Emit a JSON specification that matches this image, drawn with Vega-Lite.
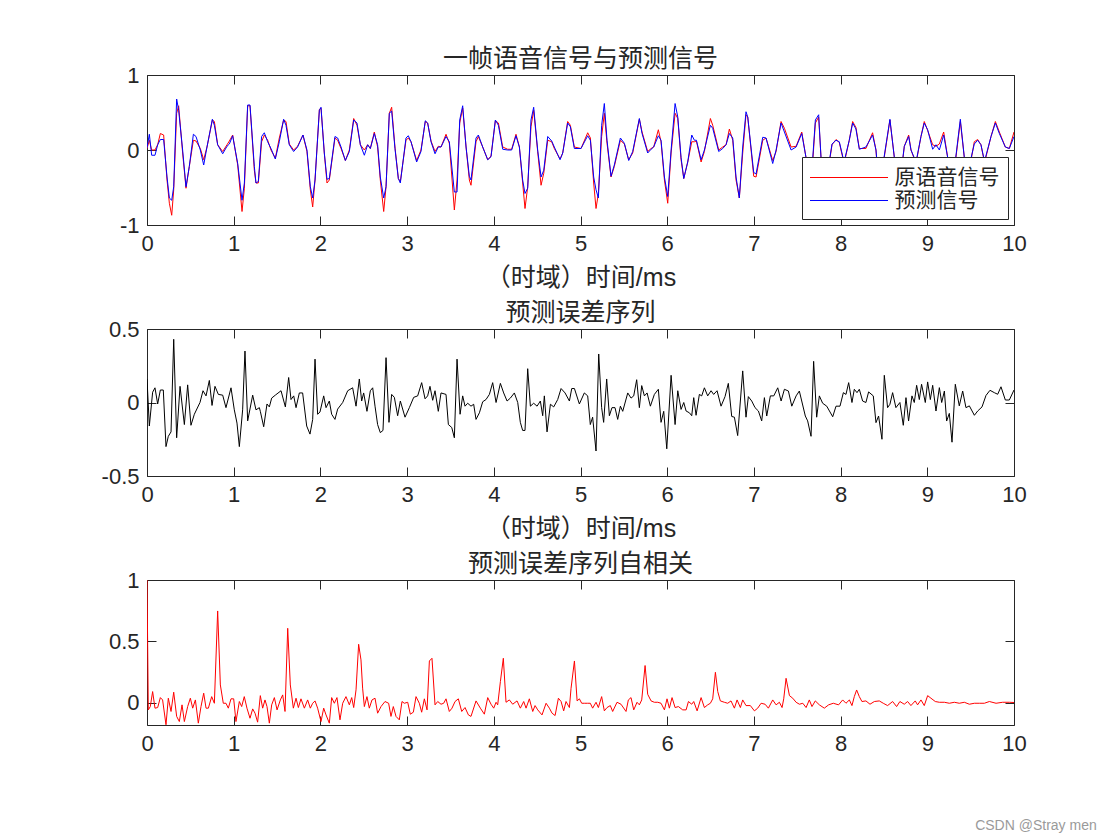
{
  "$schema": "https://vega.github.io/schema/vega-lite/v6.json",
  "background": "white",
  "padding": {"left": 100, "top": 46, "right": 10, "bottom": 8},
  "bounds": "flush",
  "spacing": 104,
  "config": {
    "view": {"stroke": "#262626", "strokeWidth": 1},
    "font": "Liberation Sans, Noto Sans CJK SC",
    "axis": {"domain": false, "grid": false, "ticks": true, "tickSize": -9, "tickColor": "#262626", "tickWidth": 1, "labelFont": "Liberation Sans", "labelFontSize": 22, "labelColor": "#262626", "labelPadding": 17, "titleFont": "Liberation Sans, Noto Sans CJK SC", "titleFontSize": 25, "titleFontWeight": "normal", "titleColor": "#262626", "labelFlush": false, "labelOverlap": false},
    "title": {"font": "Liberation Sans, Noto Sans CJK SC", "fontSize": 25, "fontWeight": "normal", "color": "#262626", "offset": -8, "anchor": "middle"}
  },
  "title": {"text": "CSDN @Stray men", "orient": "bottom", "anchor": "end", "font": "Liberation Sans", "fontSize": 14, "color": "#9a9a9a", "offset": 64, "dx": 70},
  "datasets": {
    "sig": [
      {"t":0,"o":0.02,"p":0.03},{"t":0.027,"o":0.13,"p":0.21},{"t":0.054,"o":0,"p":-0.07},{"t":0.092,"o":0,"p":-0.07},{"t":0.123,"o":0.07,"p":0.07},{"t":0.154,"o":0.22,"p":0.14},{"t":0.192,"o":0.2,"p":0.14},{"t":0.231,"o":-0.4,"p":-0.36},{"t":0.258,"o":-0.71,"p":-0.64},{"t":0.285,"o":-0.87,"p":-0.67},{"t":0.308,"o":-0.53,"p":-0.49},{"t":0.342,"o":0.49,"p":0.68},{"t":0.365,"o":0.59,"p":0.53},{"t":0.411,"o":-0.04,"p":0},{"t":0.45,"o":-0.51,"p":-0.49},{"t":0.488,"o":-0.22,"p":-0.22},{"t":0.535,"o":0.13,"p":0.21},{"t":0.565,"o":0.12,"p":0.18},{"t":0.615,"o":0.02,"p":0},{"t":0.654,"o":-0.13,"p":-0.2},{"t":0.692,"o":0.04,"p":0.04},{"t":0.754,"o":0.4,"p":0.41},{"t":0.777,"o":0.38,"p":0.33},{"t":0.815,"o":0.07,"p":0.07},{"t":0.873,"o":-0.02,"p":-0.05},{"t":0.923,"o":0.07,"p":0.05},{"t":0.95,"o":0.12,"p":0.08},{"t":0.988,"o":0.2,"p":0.19},{"t":1.046,"o":-0.2,"p":-0.18},{"t":1.096,"o":-0.82,"p":-0.67},{"t":1.123,"o":-0.51,"p":-0.44},{"t":1.161,"o":0.59,"p":0.6},{"t":1.188,"o":0.59,"p":0.6},{"t":1.238,"o":-0.27,"p":-0.22},{"t":1.257,"o":-0.44,"p":-0.44},{"t":1.284,"o":-0.44,"p":-0.42},{"t":1.322,"o":0.11,"p":0.18},{"t":1.353,"o":0.2,"p":0.23},{"t":1.392,"o":0.13,"p":0.11},{"t":1.43,"o":0,"p":0.02},{"t":1.48,"o":-0.11,"p":-0.12},{"t":1.526,"o":0.16,"p":0.11},{"t":1.576,"o":0.4,"p":0.41},{"t":1.603,"o":0.38,"p":0.33},{"t":1.641,"o":0.08,"p":0.07},{"t":1.691,"o":0,"p":-0.02},{"t":1.737,"o":0.05,"p":0.04},{"t":1.799,"o":0.2,"p":0.2},{"t":1.845,"o":-0.02,"p":0},{"t":1.884,"o":-0.53,"p":-0.49},{"t":1.911,"o":-0.76,"p":-0.64},{"t":1.938,"o":-0.4,"p":-0.4},{"t":1.988,"o":0.54,"p":0.53},{"t":2.007,"o":0.56,"p":0.57},{"t":2.045,"o":-0.04,"p":-0.04},{"t":2.076,"o":-0.44,"p":-0.39},{"t":2.103,"o":-0.4,"p":-0.38},{"t":2.168,"o":0.16,"p":0.18},{"t":2.199,"o":0.13,"p":0.16},{"t":2.238,"o":0.02,"p":0.04},{"t":2.288,"o":-0.14,"p":-0.14},{"t":2.334,"o":0,"p":-0.02},{"t":2.384,"o":0.42,"p":0.4},{"t":2.422,"o":0.33,"p":0.36},{"t":2.461,"o":0.07,"p":0.07},{"t":2.507,"o":0,"p":-0.07},{"t":2.545,"o":0.07,"p":0.07},{"t":2.576,"o":0.02,"p":0.02},{"t":2.622,"o":0.24,"p":0.22},{"t":2.66,"o":0.04,"p":0.07},{"t":2.691,"o":-0.4,"p":-0.36},{"t":2.73,"o":-0.82,"p":-0.64},{"t":2.757,"o":-0.49,"p":-0.49},{"t":2.795,"o":0.49,"p":0.49},{"t":2.822,"o":0.57,"p":0.52},{"t":2.86,"o":0.04,"p":0.02},{"t":2.899,"o":-0.38,"p":-0.38},{"t":2.922,"o":-0.42,"p":-0.44},{"t":2.987,"o":0.13,"p":0.16},{"t":3.014,"o":0.16,"p":0.19},{"t":3.045,"o":0.11,"p":0.11},{"t":3.11,"o":-0.14,"p":-0.16},{"t":3.16,"o":0,"p":-0.02},{"t":3.21,"o":0.38,"p":0.39},{"t":3.237,"o":0.36,"p":0.36},{"t":3.276,"o":0.12,"p":0.11},{"t":3.322,"o":-0.02,"p":-0.05},{"t":3.36,"o":0.05,"p":0.04},{"t":3.391,"o":0.04,"p":0.04},{"t":3.449,"o":0.21,"p":0.18},{"t":3.487,"o":0.09,"p":0.11},{"t":3.545,"o":-0.8,"p":-0.56},{"t":3.576,"o":-0.4,"p":-0.56},{"t":3.607,"o":0.36,"p":0.4},{"t":3.641,"o":0.56,"p":0.59},{"t":3.68,"o":0.04,"p":0.04},{"t":3.718,"o":-0.4,"p":-0.35},{"t":3.737,"o":-0.47,"p":-0.4},{"t":3.795,"o":0.11,"p":0.16},{"t":3.822,"o":0.18,"p":0.2},{"t":3.872,"o":0.04,"p":0.04},{"t":3.93,"o":-0.13,"p":-0.13},{"t":3.968,"o":-0.08,"p":-0.09},{"t":4.018,"o":0.39,"p":0.4},{"t":4.053,"o":0.36,"p":0.33},{"t":4.103,"o":0.04,"p":0.01},{"t":4.16,"o":0.01,"p":0},{"t":4.206,"o":0.01,"p":0},{"t":4.256,"o":0.21,"p":0.19},{"t":4.295,"o":0.04,"p":0.04},{"t":4.333,"o":-0.44,"p":-0.4},{"t":4.36,"o":-0.78,"p":-0.58},{"t":4.391,"o":-0.49,"p":-0.51},{"t":4.429,"o":0.31,"p":0.4},{"t":4.46,"o":0.53,"p":0.57},{"t":4.506,"o":-0.02,"p":0},{"t":4.545,"o":-0.47,"p":-0.36},{"t":4.576,"o":-0.31,"p":-0.27},{"t":4.622,"o":0.13,"p":0.18},{"t":4.668,"o":0.11,"p":0.12},{"t":4.698,"o":0.02,"p":0.04},{"t":4.764,"o":-0.12,"p":-0.13},{"t":4.795,"o":-0.04,"p":-0.04},{"t":4.852,"o":0.38,"p":0.36},{"t":4.883,"o":0.33,"p":0.31},{"t":4.929,"o":0.04,"p":0.02},{"t":5.006,"o":0.02,"p":0.02},{"t":5.083,"o":0.23,"p":0.19},{"t":5.114,"o":0.16,"p":0.13},{"t":5.152,"o":-0.44,"p":-0.36},{"t":5.179,"o":-0.78,"p":-0.53},{"t":5.206,"o":-0.58,"p":-0.64},{"t":5.244,"o":0.18,"p":0.33},{"t":5.275,"o":0.49,"p":0.62},{"t":5.306,"o":0.09,"p":0.13},{"t":5.352,"o":-0.36,"p":-0.35},{"t":5.39,"o":-0.22,"p":-0.2},{"t":5.46,"o":0.13,"p":0.16},{"t":5.506,"o":0.08,"p":0.09},{"t":5.556,"o":-0.13,"p":-0.14},{"t":5.602,"o":-0.04,"p":-0.02},{"t":5.679,"o":0.41,"p":0.42},{"t":5.71,"o":0.24,"p":0.22},{"t":5.775,"o":-0.02,"p":-0.04},{"t":5.814,"o":0.02,"p":0.01},{"t":5.844,"o":0.04,"p":0.04},{"t":5.898,"o":0.27,"p":0.19},{"t":5.929,"o":0.11,"p":0.13},{"t":5.968,"o":-0.4,"p":-0.36},{"t":6.006,"o":-0.71,"p":-0.62},{"t":6.045,"o":-0.04,"p":0},{"t":6.091,"o":0.49,"p":0.62},{"t":6.122,"o":0.42,"p":0.44},{"t":6.16,"o":-0.13,"p":-0.1},{"t":6.191,"o":-0.38,"p":-0.38},{"t":6.237,"o":-0.16,"p":-0.16},{"t":6.283,"o":0.11,"p":0.2},{"t":6.314,"o":0.11,"p":0.13},{"t":6.337,"o":0.12,"p":0.13},{"t":6.391,"o":-0.16,"p":-0.13},{"t":6.429,"o":-0.02,"p":0},{"t":6.498,"o":0.42,"p":0.33},{"t":6.525,"o":0.33,"p":0.29},{"t":6.594,"o":0,"p":-0.02},{"t":6.64,"o":0.04,"p":0.02},{"t":6.679,"o":0.07,"p":0.07},{"t":6.717,"o":0.28,"p":0.22},{"t":6.756,"o":0.13,"p":0.16},{"t":6.794,"o":-0.4,"p":-0.36},{"t":6.832,"o":-0.64,"p":-0.64},{"t":6.871,"o":-0.04,"p":0.04},{"t":6.909,"o":0.47,"p":0.51},{"t":6.929,"o":0.44,"p":0.44},{"t":6.998,"o":-0.35,"p":-0.3},{"t":7.025,"o":-0.36,"p":-0.32},{"t":7.102,"o":0.13,"p":0.17},{"t":7.14,"o":0.16,"p":0.16},{"t":7.217,"o":-0.14,"p":-0.18},{"t":7.256,"o":-0.02,"p":0},{"t":7.313,"o":0.38,"p":0.36},{"t":7.352,"o":0.29,"p":0.24},{"t":7.429,"o":0.04,"p":0},{"t":7.487,"o":0.05,"p":0.04},{"t":7.552,"o":0.24,"p":0.22},{"t":7.601,"o":-0.1,"p":-0.1},{"t":7.64,"o":-0.7,"p":-0.55},{"t":7.67,"o":-0.3,"p":-0.25},{"t":7.709,"o":0.36,"p":0.4},{"t":7.747,"o":0.44,"p":0.47},{"t":7.774,"o":-0.1,"p":-0.1},{"t":7.82,"o":-0.4,"p":-0.36},{"t":7.86,"o":-0.25,"p":-0.22},{"t":7.901,"o":0.07,"p":0.08},{"t":7.947,"o":0.14,"p":0.13},{"t":7.985,"o":0.1,"p":0.11},{"t":8.04,"o":-0.18,"p":-0.16},{"t":8.1,"o":0.13,"p":0.13},{"t":8.139,"o":0.38,"p":0.36},{"t":8.177,"o":0.3,"p":0.28},{"t":8.216,"o":0.02,"p":0.01},{"t":8.292,"o":0.02,"p":0.04},{"t":8.369,"o":0.23,"p":0.2},{"t":8.408,"o":0,"p":0},{"t":8.45,"o":-0.7,"p":-0.55},{"t":8.49,"o":-0.2,"p":-0.18},{"t":8.569,"o":0.4,"p":0.41},{"t":8.62,"o":-0.1,"p":-0.1},{"t":8.66,"o":-0.4,"p":-0.36},{"t":8.71,"o":-0.2,"p":-0.18},{"t":8.735,"o":0.05,"p":0.05},{"t":8.785,"o":0.2,"p":0.18},{"t":8.812,"o":0,"p":0},{"t":8.87,"o":-0.18,"p":-0.16},{"t":8.927,"o":0.18,"p":0.18},{"t":8.965,"o":0.38,"p":0.36},{"t":9.004,"o":0.26,"p":0.27},{"t":9.062,"o":0.07,"p":0.01},{"t":9.1,"o":0.05,"p":0.07},{"t":9.139,"o":0.08,"p":0},{"t":9.189,"o":0.24,"p":0.2},{"t":9.235,"o":-0.1,"p":-0.1},{"t":9.28,"o":-0.65,"p":-0.5},{"t":9.33,"o":-0.1,"p":-0.08},{"t":9.381,"o":0.38,"p":0.41},{"t":9.427,"o":-0.1,"p":-0.1},{"t":9.47,"o":-0.38,"p":-0.34},{"t":9.51,"o":-0.1,"p":-0.08},{"t":9.542,"o":0.11,"p":0.08},{"t":9.581,"o":0.14,"p":0.13},{"t":9.619,"o":0.07,"p":0.07},{"t":9.66,"o":-0.17,"p":-0.15},{"t":9.735,"o":0.18,"p":0.18},{"t":9.785,"o":0.38,"p":0.36},{"t":9.831,"o":0.24,"p":0.22},{"t":9.9,"o":0.04,"p":0.04},{"t":9.946,"o":0.02,"p":0.02},{"t":10,"o":0.24,"p":0.18}
    ],
    "err": [
      {"t":0,"e":0.16},{"t":0.027,"e":-0.16},{"t":0.065,"e":0.07},{"t":0.092,"e":0.1},{"t":0.123,"e":-0.01},{"t":0.154,"e":0.085},{"t":0.188,"e":0.085},{"t":0.219,"e":-0.3},{"t":0.246,"e":-0.23},{"t":0.277,"e":-0.2},{"t":0.308,"e":0.43},{"t":0.342,"e":-0.24},{"t":0.381,"e":0.11},{"t":0.431,"e":-0.15},{"t":0.469,"e":0.12},{"t":0.507,"e":-0.155},{"t":0.546,"e":-0.08},{"t":0.611,"e":0},{"t":0.646,"e":0.08},{"t":0.681,"e":0.045},{"t":0.719,"e":0.15},{"t":0.75,"e":-0.02},{"t":0.784,"e":0.11},{"t":0.823,"e":0.055},{"t":0.873,"e":0.05},{"t":0.911,"e":-0.035},{"t":0.969,"e":0.1},{"t":1.007,"e":-0.05},{"t":1.038,"e":-0.14},{"t":1.065,"e":-0.3},{"t":1.103,"e":-0.05},{"t":1.13,"e":0.35},{"t":1.161,"e":-0.125},{"t":1.219,"e":0.05},{"t":1.257,"e":-0.05},{"t":1.296,"e":-0.035},{"t":1.307,"e":-0.06},{"t":1.346,"e":-0.165},{"t":1.384,"e":-0.01},{"t":1.411,"e":-0.03},{"t":1.438,"e":0.03},{"t":1.48,"e":0.05},{"t":1.546,"e":0.08},{"t":1.596,"e":-0.03},{"t":1.634,"e":0.17},{"t":1.661,"e":0.02},{"t":1.692,"e":0.045},{"t":1.719,"e":-0.035},{"t":1.757,"e":0.065},{"t":1.795,"e":0.065},{"t":1.842,"e":-0.16},{"t":1.88,"e":-0.215},{"t":1.911,"e":-0.115},{"t":1.938,"e":0.295},{"t":1.968,"e":-0.08},{"t":1.995,"e":-0.065},{"t":2.038,"e":0.045},{"t":2.065,"e":-0.035},{"t":2.103,"e":0.01},{"t":2.13,"e":-0.08},{"t":2.168,"e":-0.115},{"t":2.199,"e":-0.045},{"t":2.257,"e":0},{"t":2.315,"e":0.08},{"t":2.372,"e":0.1},{"t":2.411,"e":-0.025},{"t":2.449,"e":0.16},{"t":2.476,"e":0.01},{"t":2.499,"e":0.065},{"t":2.537,"e":-0.06},{"t":2.576,"e":0.08},{"t":2.603,"e":0.1},{"t":2.63,"e":-0.025},{"t":2.66,"e":-0.15},{"t":2.691,"e":-0.205},{"t":2.722,"e":-0.19},{"t":2.757,"e":0.305},{"t":2.791,"e":-0.135},{"t":2.822,"e":0.055},{"t":2.853,"e":0.035},{"t":2.891,"e":-0.09},{"t":2.922,"e":0.01},{"t":2.976,"e":-0.1},{"t":3.026,"e":-0.035},{"t":3.076,"e":0.035},{"t":3.122,"e":0.045},{"t":3.168,"e":0.135},{"t":3.207,"e":0.025},{"t":3.237,"e":0.045},{"t":3.264,"e":0.11},{"t":3.295,"e":0.015},{"t":3.322,"e":0.08},{"t":3.36,"e":-0.06},{"t":3.391,"e":0.065},{"t":3.449,"e":0.055},{"t":3.476,"e":-0.15},{"t":3.515,"e":-0.17},{"t":3.545,"e":-0.24},{"t":3.576,"e":0.295},{"t":3.611,"e":-0.08},{"t":3.641,"e":0.045},{"t":3.668,"e":-0.025},{"t":3.699,"e":-0.005},{"t":3.737,"e":-0.025},{"t":3.768,"e":-0.012},{"t":3.795,"e":-0.115},{"t":3.834,"e":-0.07},{"t":3.872,"e":0.005},{"t":3.91,"e":0.02},{"t":3.949,"e":0.055},{"t":3.987,"e":0.135},{"t":4.026,"e":0},{"t":4.076,"e":0.13},{"t":4.114,"e":0.065},{"t":4.153,"e":0.01},{"t":4.191,"e":0.03},{"t":4.237,"e":0.065},{"t":4.276,"e":0},{"t":4.306,"e":-0.135},{"t":4.333,"e":-0.19},{"t":4.36,"e":-0.19},{"t":4.391,"e":0.23},{"t":4.422,"e":-0.025},{"t":4.46,"e":-0.005},{"t":4.499,"e":-0.025},{"t":4.537,"e":0.01},{"t":4.564,"e":-0.09},{"t":4.583,"e":0.045},{"t":4.614,"e":-0.2},{"t":4.653,"e":-0.012},{"t":4.691,"e":-0.03},{"t":4.737,"e":0.02},{"t":4.776,"e":0.095},{"t":4.822,"e":0.065},{"t":4.872,"e":0.01},{"t":4.899,"e":0.095},{"t":4.93,"e":0.095},{"t":4.987,"e":-0.01},{"t":5.044,"e":0.065},{"t":5.083,"e":0.045},{"t":5.113,"e":-0.15},{"t":5.14,"e":-0.1},{"t":5.179,"e":-0.33},{"t":5.21,"e":0.33},{"t":5.244,"e":-0.035},{"t":5.267,"e":-0.135},{"t":5.302,"e":0.16},{"t":5.333,"e":-0.09},{"t":5.363,"e":-0.035},{"t":5.398,"e":-0.035},{"t":5.429,"e":-0.115},{"t":5.46,"e":-0.025},{"t":5.487,"e":-0.06},{"t":5.545,"e":0.065},{"t":5.583,"e":0.03},{"t":5.614,"e":0.045},{"t":5.648,"e":0.155},{"t":5.679,"e":-0.035},{"t":5.706,"e":0.115},{"t":5.737,"e":0.045},{"t":5.768,"e":0.065},{"t":5.806,"e":-0.025},{"t":5.852,"e":0.055},{"t":5.898,"e":0.09},{"t":5.929,"e":-0.135},{"t":5.96,"e":-0.06},{"t":5.995,"e":-0.315},{"t":6.045,"e":0.185},{"t":6.091,"e":-0.15},{"t":6.122,"e":0.08},{"t":6.16,"e":-0.047},{"t":6.191,"e":0},{"t":6.218,"e":-0.058},{"t":6.256,"e":-0.07},{"t":6.283,"e":-0.09},{"t":6.306,"e":0.033},{"t":6.333,"e":-0.087},{"t":6.371,"e":0.055},{"t":6.398,"e":0.045},{"t":6.429,"e":0.1},{"t":6.467,"e":0.045},{"t":6.506,"e":0.08},{"t":6.536,"e":0.055},{"t":6.575,"e":0.08},{"t":6.621,"e":-0.025},{"t":6.667,"e":0.04},{"t":6.705,"e":0.13},{"t":6.744,"e":-0.095},{"t":6.775,"e":-0.1},{"t":6.813,"e":-0.225},{"t":6.871,"e":0.215},{"t":6.909,"e":-0.1},{"t":6.936,"e":0.04},{"t":6.975,"e":0.01},{"t":7.013,"e":-0.035},{"t":7.052,"e":-0.058},{"t":7.09,"e":-0.125},{"t":7.121,"e":0.033},{"t":7.148,"e":-0.092},{"t":7.19,"e":0.045},{"t":7.229,"e":0.045},{"t":7.275,"e":0.1},{"t":7.314,"e":0.01},{"t":7.352,"e":0.09},{"t":7.398,"e":0.078},{"t":7.437,"e":-0.025},{"t":7.487,"e":0.045},{"t":7.524,"e":0.078},{"t":7.593,"e":-0.092},{"t":7.62,"e":-0.125},{"t":7.659,"e":-0.23},{"t":7.689,"e":0.28},{"t":7.724,"e":-0.1},{"t":7.755,"e":0.045},{"t":7.793,"e":-0.005},{"t":7.84,"e":-0.025},{"t":7.909,"e":-0.097},{"t":7.947,"e":-0.025},{"t":7.993,"e":-0.025},{"t":8.032,"e":0.067},{"t":8.062,"e":0.055},{"t":8.093,"e":0.135},{"t":8.131,"e":0},{"t":8.158,"e":0.09},{"t":8.189,"e":0.067},{"t":8.216,"e":0.09},{"t":8.254,"e":0.01},{"t":8.292,"e":0},{"t":8.323,"e":0.072},{"t":8.377,"e":0.045},{"t":8.408,"e":-0.137},{"t":8.438,"e":-0.092},{"t":8.477,"e":-0.25},{"t":8.504,"e":0.185},{"t":8.542,"e":-0.035},{"t":8.569,"e":-0.012},{"t":8.6,"e":0.067},{"t":8.638,"e":-0.035},{"t":8.684,"e":0},{"t":8.723,"e":-0.155},{"t":8.754,"e":0.033},{"t":8.784,"e":-0.126},{"t":8.823,"e":0.045},{"t":8.85,"e":0},{"t":8.877,"e":0.117},{"t":8.908,"e":0.02},{"t":8.934,"e":0.124},{"t":8.977,"e":0},{"t":9.004,"e":0.14},{"t":9.035,"e":0.02},{"t":9.062,"e":0.117},{"t":9.1,"e":-0.058},{"t":9.139,"e":0.101},{"t":9.166,"e":0},{"t":9.197,"e":0.078},{"t":9.223,"e":-0.126},{"t":9.254,"e":-0.074},{"t":9.285,"e":-0.27},{"t":9.323,"e":0.124},{"t":9.369,"e":-0.023},{"t":9.408,"e":0.078},{"t":9.446,"e":-0.035},{"t":9.485,"e":-0.023},{"t":9.543,"e":-0.087},{"t":9.581,"e":-0.058},{"t":9.631,"e":-0.03},{"t":9.677,"e":0.048},{"t":9.723,"e":0.083},{"t":9.773,"e":0.067},{"t":9.812,"e":0.056},{"t":9.85,"e":0.107},{"t":9.9,"e":0.017},{"t":9.946,"e":0.017},{"t":10,"e":0.085}
    ],
    "ac": [
      {"t":0,"r":1},{"t":0.015,"r":-0.057},{"t":0.038,"r":-0.03},{"t":0.065,"r":0.092},{"t":0.092,"r":-0.043},{"t":0.123,"r":-0.038},{"t":0.154,"r":0.043},{"t":0.18,"r":0.024},{"t":0.219,"r":-0.178},{"t":0.246,"r":0.038},{"t":0.277,"r":-0.07},{"t":0.308,"r":0.087},{"t":0.342,"r":-0.11},{"t":0.373,"r":-0.152},{"t":0.404,"r":-0.016},{"t":0.431,"r":-0.152},{"t":0.469,"r":-0.03},{"t":0.5,"r":0.038},{"t":0.527,"r":-0.043},{"t":0.558,"r":0.024},{"t":0.592,"r":-0.165},{"t":0.623,"r":-0.03},{"t":0.654,"r":0.079},{"t":0.681,"r":-0.043},{"t":0.708,"r":-0.043},{"t":0.746,"r":0.051},{"t":0.777,"r":-0.003},{"t":0.815,"r":0.748},{"t":0.846,"r":0.146},{"t":0.88,"r":-0.003},{"t":0.911,"r":-0.003},{"t":0.938,"r":-0.043},{"t":0.969,"r":0.033},{"t":1,"r":0.033},{"t":1.026,"r":-0.152},{"t":1.065,"r":0.011},{"t":1.092,"r":-0.03},{"t":1.122,"r":0.051},{"t":1.153,"r":-0.043},{"t":1.188,"r":-0.125},{"t":1.219,"r":-0.049},{"t":1.246,"r":-0.084},{"t":1.276,"r":-0.157},{"t":1.307,"r":0.059},{"t":1.334,"r":-0.043},{"t":1.361,"r":0.024},{"t":1.384,"r":-0.03},{"t":1.411,"r":-0.165},{"t":1.438,"r":-0.016},{"t":1.469,"r":0.043},{"t":1.5,"r":-0.057},{"t":1.538,"r":0.024},{"t":1.565,"r":0.065},{"t":1.592,"r":-0.07},{"t":1.623,"r":0.607},{"t":1.653,"r":0.146},{"t":1.688,"r":-0.043},{"t":1.719,"r":0.038},{"t":1.746,"r":-0.038},{"t":1.776,"r":0.033},{"t":1.815,"r":-0.043},{"t":1.853,"r":0.024},{"t":1.884,"r":-0.043},{"t":1.911,"r":-0.003},{"t":1.938,"r":0.016},{"t":1.968,"r":-0.043},{"t":2.007,"r":-0.152},{"t":2.038,"r":-0.043},{"t":2.065,"r":-0.098},{"t":2.103,"r":-0.165},{"t":2.13,"r":0.043},{"t":2.161,"r":-0.003},{"t":2.191,"r":0.043},{"t":2.226,"r":-0.138},{"t":2.257,"r":-0.003},{"t":2.295,"r":0.051},{"t":2.334,"r":-0.016},{"t":2.361,"r":0.043},{"t":2.384,"r":-0.038},{"t":2.411,"r":0.106},{"t":2.441,"r":0.477},{"t":2.468,"r":0.35},{"t":2.487,"r":0.12},{"t":2.507,"r":-0.03},{"t":2.537,"r":0.051},{"t":2.564,"r":-0.043},{"t":2.595,"r":0.024},{"t":2.63,"r":0.038},{"t":2.66,"r":-0.084},{"t":2.699,"r":-0.03},{"t":2.745,"r":0.011},{"t":2.787,"r":-0.003},{"t":2.814,"r":-0.11},{"t":2.841,"r":-0.03},{"t":2.872,"r":-0.11},{"t":2.91,"r":-0.138},{"t":2.941,"r":0.011},{"t":2.968,"r":-0.003},{"t":3.007,"r":0.005},{"t":3.037,"r":-0.092},{"t":3.072,"r":-0.076},{"t":3.103,"r":0.051},{"t":3.141,"r":-0.003},{"t":3.168,"r":-0.076},{"t":3.199,"r":0.033},{"t":3.23,"r":-0.057},{"t":3.257,"r":0.341},{"t":3.287,"r":0.363},{"t":3.322,"r":-0.016},{"t":3.353,"r":0.011},{"t":3.391,"r":-0.011},{"t":3.422,"r":-0.003},{"t":3.449,"r":0.033},{"t":3.487,"r":-0.07},{"t":3.518,"r":-0.043},{"t":3.553,"r":0.011},{"t":3.591,"r":0.033},{"t":3.63,"r":-0.07},{"t":3.668,"r":-0.038},{"t":3.707,"r":-0.098},{"t":3.737,"r":-0.11},{"t":3.795,"r":0.016},{"t":3.845,"r":-0.043},{"t":3.891,"r":-0.092},{"t":3.93,"r":0.043},{"t":3.968,"r":-0.011},{"t":3.999,"r":-0.043},{"t":4.026,"r":0.005},{"t":4.045,"r":-0.016},{"t":4.076,"r":0.173},{"t":4.11,"r":0.363},{"t":4.141,"r":0.005},{"t":4.18,"r":0.024},{"t":4.218,"r":-0.011},{"t":4.268,"r":0.016},{"t":4.306,"r":-0.043},{"t":4.345,"r":0.011},{"t":4.372,"r":-0.043},{"t":4.41,"r":0.033},{"t":4.449,"r":-0.07},{"t":4.476,"r":-0.022},{"t":4.507,"r":-0.057},{"t":4.556,"r":-0.098},{"t":4.603,"r":-0.003},{"t":4.641,"r":-0.043},{"t":4.672,"r":-0.084},{"t":4.707,"r":-0.103},{"t":4.745,"r":0.038},{"t":4.776,"r":0.011},{"t":4.806,"r":-0.065},{"t":4.833,"r":0.011},{"t":4.872,"r":-0.038},{"t":4.891,"r":0.119},{"t":4.93,"r":0.341},{"t":4.961,"r":0.016},{"t":4.987,"r":0.033},{"t":5.014,"r":-0.003},{"t":5.044,"r":-0.003},{"t":5.083,"r":-0.003},{"t":5.113,"r":-0.003},{"t":5.14,"r":-0.043},{"t":5.179,"r":0.005},{"t":5.206,"r":-0.038},{"t":5.244,"r":0.051},{"t":5.275,"r":-0.065},{"t":5.306,"r":-0.038},{"t":5.344,"r":-0.022},{"t":5.371,"r":-0.07},{"t":5.421,"r":0.005},{"t":5.467,"r":-0.011},{"t":5.525,"r":-0.07},{"t":5.552,"r":0.024},{"t":5.583,"r":0.043},{"t":5.614,"r":-0.057},{"t":5.652,"r":0.005},{"t":5.679,"r":-0.016},{"t":5.706,"r":0.024},{"t":5.745,"r":0.304},{"t":5.775,"r":0.07},{"t":5.814,"r":0.016},{"t":5.852,"r":0.005},{"t":5.891,"r":0.005},{"t":5.929,"r":-0.003},{"t":5.968,"r":-0.057},{"t":5.998,"r":0.033},{"t":6.025,"r":-0.043},{"t":6.056,"r":0.043},{"t":6.091,"r":-0.038},{"t":6.129,"r":-0.03},{"t":6.179,"r":-0.057},{"t":6.218,"r":-0.057},{"t":6.245,"r":0.011},{"t":6.283,"r":-0.011},{"t":6.306,"r":0.011},{"t":6.345,"r":-0.065},{"t":6.391,"r":0.043},{"t":6.429,"r":-0.038},{"t":6.467,"r":-0.016},{"t":6.498,"r":-0.003},{"t":6.525,"r":0.033},{"t":6.556,"r":0.249},{"t":6.583,"r":0.092},{"t":6.613,"r":0.016},{"t":6.659,"r":0.005},{"t":6.698,"r":-0.003},{"t":6.736,"r":0.016},{"t":6.775,"r":-0.043},{"t":6.806,"r":0.024},{"t":6.844,"r":-0.038},{"t":6.871,"r":0.024},{"t":6.909,"r":-0.022},{"t":6.959,"r":-0.022},{"t":7.006,"r":-0.065},{"t":7.044,"r":-0.043},{"t":7.083,"r":-0.003},{"t":7.129,"r":-0.011},{"t":7.167,"r":-0.043},{"t":7.217,"r":0.024},{"t":7.256,"r":-0.016},{"t":7.294,"r":0.005},{"t":7.325,"r":-0.038},{"t":7.344,"r":0.033},{"t":7.371,"r":0.2},{"t":7.41,"r":0.059},{"t":7.448,"r":0.038},{"t":7.487,"r":0.005},{"t":7.525,"r":-0.011},{"t":7.564,"r":-0.003},{"t":7.602,"r":-0.038},{"t":7.639,"r":0.024},{"t":7.67,"r":-0.03},{"t":7.708,"r":0.016},{"t":7.755,"r":-0.016},{"t":7.812,"r":-0.043},{"t":7.862,"r":-0.016},{"t":7.916,"r":-0.003},{"t":7.977,"r":-0.016},{"t":8.024,"r":0.024},{"t":8.062,"r":-0.003},{"t":8.101,"r":0.024},{"t":8.131,"r":-0.022},{"t":8.158,"r":0.051},{"t":8.185,"r":0.105},{"t":8.216,"r":0.051},{"t":8.246,"r":0.011},{"t":8.292,"r":0.016},{"t":8.339,"r":-0.011},{"t":8.389,"r":0.011},{"t":8.446,"r":0.016},{"t":8.492,"r":-0.003},{"t":8.542,"r":-0.022},{"t":8.6,"r":0.011},{"t":8.646,"r":-0.03},{"t":8.684,"r":0.011},{"t":8.734,"r":-0.011},{"t":8.773,"r":0.011},{"t":8.811,"r":-0.022},{"t":8.861,"r":0.016},{"t":8.888,"r":-0.016},{"t":8.927,"r":0.024},{"t":8.965,"r":-0.022},{"t":9.004,"r":0.059},{"t":9.042,"r":0.038},{"t":9.092,"r":0.011},{"t":9.139,"r":0.005},{"t":9.197,"r":0.005},{"t":9.254,"r":-0.003},{"t":9.312,"r":0.005},{"t":9.369,"r":-0.003},{"t":9.427,"r":0.005},{"t":9.485,"r":-0.011},{"t":9.543,"r":-0.003},{"t":9.6,"r":-0.003},{"t":9.658,"r":-0.003},{"t":9.716,"r":0.011},{"t":9.793,"r":-0.003},{"t":9.869,"r":0.005},{"t":9.946,"r":0.005},{"t":10,"r":0.003}
    ]
  },
  "vconcat": [
    {
      "width": 867, "height": 150,
      "title": "一帧语音信号与预测信号",
      "data": {"name": "sig"},
      "transform": [{"fold": ["o", "p"], "as": ["s", "v"]}],
      "layer": [
        {
          "mark": {"type": "line", "strokeWidth": 1, "clip": true},
          "encoding": {
            "x": {"field": "t", "type": "quantitative", "scale": {"domain": [0, 10], "nice": false, "zero": false},
                  "axis": {"orient": "bottom", "values": [0,1,2,3,4,5,6,7,8,9,10], "title": "（时域）时间/ms", "labelExpr": "toString(datum.value)", "titlePadding": 11}},
            "y": {"field": "v", "type": "quantitative", "scale": {"domain": [-1, 1], "nice": false, "zero": false},
                  "axis": {"orient": "left", "values": [-1, 0, 1], "title": null, "labelExpr": "toString(datum.value)"}},
            "color": {"field": "s", "type": "nominal", "scale": {"domain": ["o", "p"], "range": ["#ff0000", "#0000ff"]},
                      "legend": {"title": null, "orient": "none", "legendX": 655, "legendY": 82, "fillColor": "white", "strokeColor": "#262626", "padding": 8, "symbolType": "M-3.25,0L3.25,0", "symbolSize": 576, "symbolStrokeWidth": 1, "symbolOffset": 26.5, "labelOffset": 33, "labelFont": "Noto Sans CJK SC", "labelFontSize": 21, "labelColor": "#262626", "rowPadding": 0, "labelExpr": "datum.value == 'o' ? '原语音信号' : '预测信号'"}}
          }
        },
        {
          "mark": {"type": "line", "strokeOpacity": 0},
          "encoding": {
            "x": {"field": "t", "type": "quantitative", "axis": {"orient": "top", "values": [0,1,2,3,4,5,6,7,8,9,10], "labels": false, "title": null}},
            "y": {"field": "v", "type": "quantitative", "axis": {"orient": "right", "values": [-1, 0, 1], "labels": false, "title": null}}
          }
        }
      ],
      "resolve": {"axis": {"x": "independent", "y": "independent"}}
    },
    {
      "width": 867, "height": 147,
      "title": "预测误差序列",
      "data": {"name": "err"},
      "layer": [
        {
          "mark": {"type": "line", "strokeWidth": 1, "color": "#000000", "clip": true},
          "encoding": {
            "x": {"field": "t", "type": "quantitative", "scale": {"domain": [0, 10], "nice": false, "zero": false},
                  "axis": {"orient": "bottom", "values": [0,1,2,3,4,5,6,7,8,9,10], "title": "（时域）时间/ms", "labelExpr": "toString(datum.value)", "titlePadding": 11}},
            "y": {"field": "e", "type": "quantitative", "scale": {"domain": [-0.5, 0.5], "nice": false, "zero": false},
                  "axis": {"orient": "left", "values": [-0.5, 0, 0.5], "title": null, "labelExpr": "toString(datum.value)"}}
          }
        },
        {
          "mark": {"type": "line", "strokeOpacity": 0},
          "encoding": {
            "x": {"field": "t", "type": "quantitative", "axis": {"orient": "top", "values": [0,1,2,3,4,5,6,7,8,9,10], "labels": false, "title": null}},
            "y": {"field": "e", "type": "quantitative", "axis": {"orient": "right", "values": [-0.5, 0, 0.5], "labels": false, "title": null}}
          }
        }
      ],
      "resolve": {"axis": {"x": "independent", "y": "independent"}}
    },
    {
      "width": 867, "height": 145,
      "title": "预测误差序列自相关",
      "data": {"name": "ac"},
      "layer": [
        {
          "mark": {"type": "line", "strokeWidth": 1, "color": "#ff0000", "clip": true},
          "encoding": {
            "x": {"field": "t", "type": "quantitative", "scale": {"domain": [0, 10], "nice": false, "zero": false},
                  "axis": {"orient": "bottom", "values": [0,1,2,3,4,5,6,7,8,9,10], "title": null, "labelExpr": "toString(datum.value)"}},
            "y": {"field": "r", "type": "quantitative", "scale": {"domain": [-0.18, 1], "nice": false, "zero": false},
                  "axis": {"orient": "left", "values": [0, 0.5, 1], "title": null, "labelExpr": "toString(datum.value)"}}
          }
        },
        {
          "mark": {"type": "line", "strokeOpacity": 0},
          "encoding": {
            "x": {"field": "t", "type": "quantitative", "axis": {"orient": "top", "values": [0,1,2,3,4,5,6,7,8,9,10], "labels": false, "title": null}},
            "y": {"field": "r", "type": "quantitative", "axis": {"orient": "right", "values": [0, 0.5, 1], "labels": false, "title": null}}
          }
        }
      ],
      "resolve": {"axis": {"x": "independent", "y": "independent"}}
    }
  ]
}
